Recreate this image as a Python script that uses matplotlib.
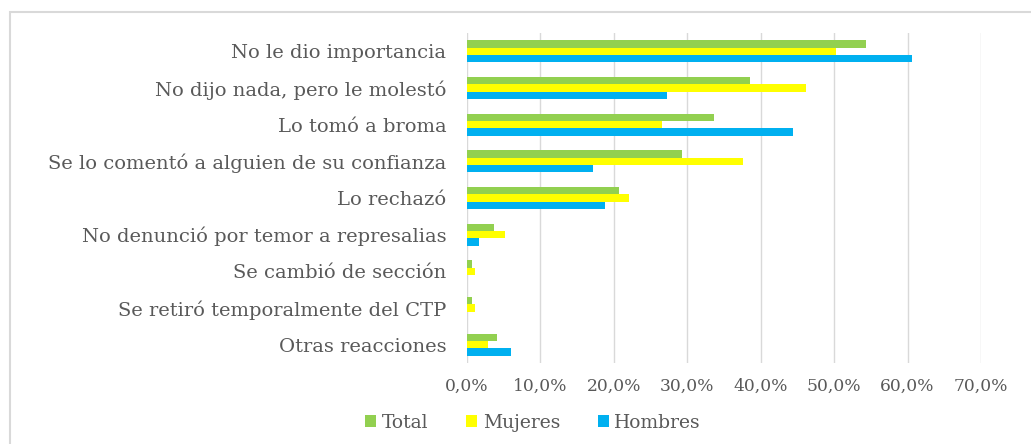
import matplotlib

matplotlib.use("Agg")
import matplotlib.pyplot as plt
import numpy as np
from matplotlib.patches import Rectangle
from matplotlib.ticker import FuncFormatter

categories = [
    "No le dio importancia",
    "No dijo nada, pero le molestó",
    "Lo tomó a broma",
    "Se lo comentó a alguien de su confianza",
    "Lo rechazó",
    "No denunció por temor a represalias",
    "Se cambió de sección",
    "Se retiró temporalmente del CTP",
    "Otras reacciones",
]
total = [54.4, 38.6, 33.6, 29.3, 20.7, 3.7, 0.7, 0.7, 4.1]
mujeres = [50.3, 46.1, 26.5, 37.6, 22.0, 5.2, 1.1, 1.1, 2.8]
hombres = [60.6, 27.2, 44.4, 17.1, 18.8, 1.7, 0.0, 0.0, 6.0]

series = [("Total", total, "#92D050"), ("Mujeres", mujeres, "#FFFF00"),
          ("Hombres", hombres, "#00B0F0")]
text_color = "#595959"
plt.rcParams["font.family"] = ["DejaVu Serif"]

fig = plt.figure(figsize=(10.31, 4.44), dpi=100)
fig.patches.append(Rectangle((10 / 1031, -0.1), 1.2, 1.1 - 12 / 444,
                             transform=fig.transFigure, fill=False,
                             edgecolor="#D9D9D9", lw=1.5))
ax = fig.add_axes([467 / 1031, 1 - 363 / 444, 514 / 1031, 330 / 444])

y = np.arange(len(categories))
h = 0.2
for i, (name, vals, color) in enumerate(series):
    ax.barh(y + (i - 1) * h, vals, height=h, color=color, label=name, zorder=3)

ax.set_xlim(0, 70)
ax.set_ylim(len(categories) - 0.5, -0.5)
ax.set_xticks(np.arange(0, 71, 10))
ax.xaxis.set_major_formatter(FuncFormatter(lambda v, _: f"{v:.1f}%".replace(".", ",")))
ax.set_yticks(y)
ax.set_yticklabels(categories)
ax.grid(axis="x", color="#D9D9D9", lw=1, zorder=0)
for s in ax.spines.values():
    s.set_visible(False)
ax.tick_params(axis="both", length=0, colors=text_color, labelsize=14)
ax.tick_params(axis="x", pad=11, labelsize=12.3)
ax.tick_params(axis="y", pad=15)

fig.legend(loc="center", bbox_to_anchor=(533 / 1031, 1 - 423 / 444), ncol=3,
           frameon=False, fontsize=13.5, labelcolor=text_color, handlelength=0.6,
           handleheight=0.6, handletextpad=0.3, columnspacing=2.0)

fig.savefig("out.png", dpi=100)
